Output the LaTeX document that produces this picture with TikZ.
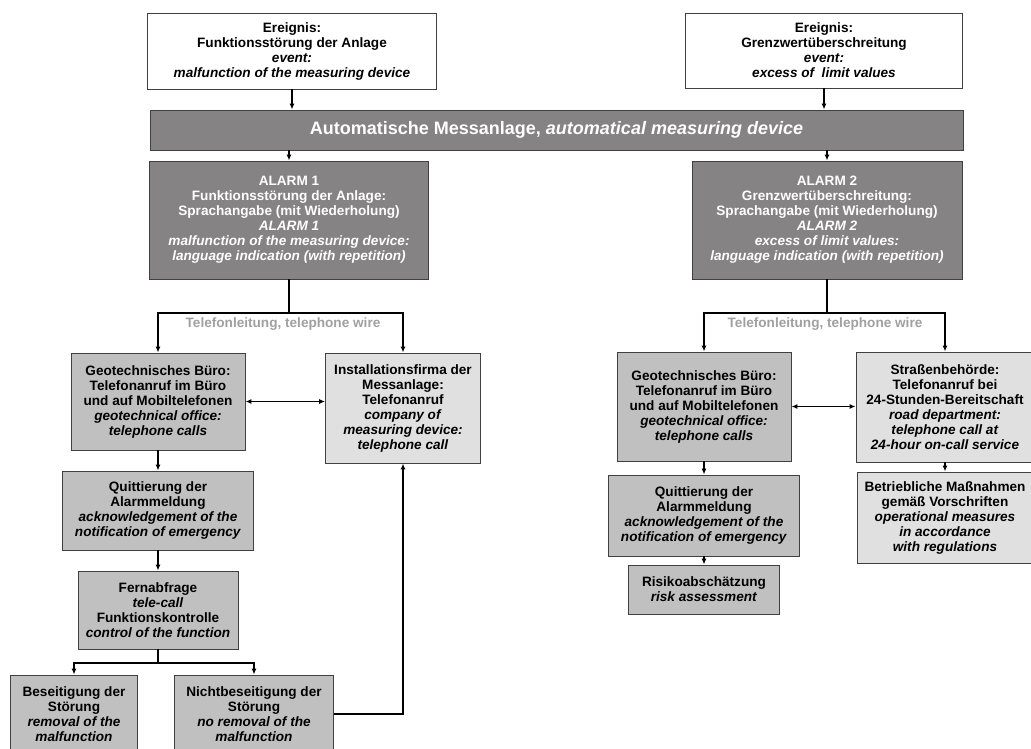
\documentclass[tikz,border=0pt]{standalone}
\usepackage{fontspec}
\setmainfont{Liberation Sans}
\usetikzlibrary{arrows.meta}
\definecolor{alarmgray}{HTML}{858383}
\definecolor{midgray}{HTML}{C0C0C0}
\definecolor{lightgray}{HTML}{E0E0E0}
\definecolor{boxline}{HTML}{404040}
\definecolor{wiregray}{HTML}{A0A0A0}
\begin{document}
\begin{tikzpicture}[x=1pt,y=-1pt,
  box/.style={draw=boxline, line width=0.9pt, align=center, inner sep=0pt,
    font=\fontsize{13.6}{15}\selectfont\bfseries},
  wh/.style 2 args={minimum width=#1, minimum height=#2},
  dark/.style={box, fill=alarmgray, text=white},
  mid/.style={box, fill=midgray},
  light/.style={box, fill=lightgray},
  wirelabel/.style={inner sep=1pt, text=wiregray,
    font=\fontsize{13.6}{15}\selectfont\bfseries},
  wire/.style={line width=1.8pt, -{Latex[length=6pt,width=5pt]}},
  dbl/.style={line width=1.8pt, {Latex[length=6pt,width=5pt]}-{Latex[length=6pt,width=5pt]}},
]
\useasboundingbox (0,0) rectangle (1031,749);

% events and measuring device
\node[box, fill=white, wh={289}{76}] (ev1) at (292,51)
  {Ereignis:\\Funktionsstörung der Anlage\\\textit{event:}\\\textit{malfunction of the measuring device}};
\node[box, fill=white, wh={277}{75}] (ev2) at (824,50.5)
  {Ereignis:\\Grenzwertüberschreitung\\\textit{event:}\\\textit{excess of\ \ limit values}};
\node[dark, wh={813}{40}, font=\fontsize{18}{20}\selectfont\bfseries] (bar) at (556.5,130)
  {Automatische Messanlage, \textit{automatical measuring device}};

% alarms
\node[dark, wh={279}{118}] (al1) at (289,220)
  {ALARM 1\\Funktionsstörung der Anlage:\\Sprachangabe (mit Wiederholung)\\\textit{ALARM 1}\\
   \textit{malfunction of the measuring device:}\\\textit{language indication (with repetition)}};
\node[dark, wh={270}{118}] (al2) at (827,220)
  {ALARM 2\\Grenzwertüberschreitung:\\Sprachangabe (mit Wiederholung)\\\textit{ALARM 2}\\
   \textit{excess of limit values:}\\\textit{language indication (with repetition)}};

% left branch
\node[mid, wh={174}{97}] (geo1) at (158,401.5)
  {Geotechnisches Büro:\\Telefonanruf im Büro\\und auf Mobiltelefonen\\\textit{geotechnical office:}\\\textit{telephone calls}};
\node[light, wh={155}{110}] (inst) at (403,408)
  {Installationsfirma der\\Messanlage:\\Telefonanruf\\\textit{company of}\\\textit{measuring device:}\\\textit{telephone call}};
\node[mid, wh={191}{79}] (quit1) at (158,510.5)
  {Quittierung der\\Alarmmeldung\\\textit{acknowledgement of the}\\\textit{notification of emergency}};
\node[mid, wh={160}{78}] (fern) at (158,610)
  {Fernabfrage\\\textit{tele-call}\\Funktionskontrolle\\\textit{control of the function}};
\node[mid, wh={127}{78}] (bes) at (74,714)
  {Beseitigung der\\Störung\\\textit{removal of the}\\\textit{malfunction}};
\node[mid, wh={159}{78}] (nicht) at (254,714)
  {Nichtbeseitigung der\\Störung\\\textit{no removal of the}\\\textit{malfunction}};

% right branch
\node[mid, wh={174}{109}] (geo2) at (704,406.5)
  {Geotechnisches Büro:\\Telefonanruf im Büro\\und auf Mobiltelefonen\\\textit{geotechnical office:}\\\textit{telephone calls}};
\node[light, wh={178}{110}] (str) at (945,407)
  {Straßenbehörde:\\Telefonanruf bei\\24-Stunden-Bereitschaft\\\textit{road department:}\\\textit{telephone call at}\\\textit{24-hour on-call service}};
\node[mid, wh={191}{81}] (quit2) at (704,515.5)
  {Quittierung der\\Alarmmeldung\\\textit{acknowledgement of the}\\\textit{notification of emergency}};
\node[mid, wh={151}{49}] (risk) at (704,589.5)
  {Risikoabschätzung\\\textit{risk assessment}};
\node[light, wh={176}{91}] (bet) at (945,517.5)
  {Betriebliche Maßnahmen\\gemäß Vorschriften\\\textit{operational measures}\\\textit{in accordance}\\\textit{with regulations}};

% connectors
\coordinate (s1) at (289,313);
\coordinate (s2) at (158,663);
\coordinate (s3) at (827,313);
\draw[wire] (ev1.south) -- (ev1.south |- bar.north);
\draw[wire] (ev2.south) -- (ev2.south |- bar.north);
\draw[wire] (al1.north |- bar.south) -- (al1.north);
\draw[wire] (al2.north |- bar.south) -- (al2.north);

\draw[wire] (al1.south) -- (s1) -| (geo1.north);
\draw[wire] (s1) -| (inst.north);
\node[wirelabel] (tel1) at (283,324) {Telefonleitung, telephone wire};
\draw[dbl] (geo1.east) -- (geo1.east -| inst.west);
\draw[wire] (geo1.south) -- (quit1.north);
\draw[wire] (quit1.south) -- (fern.north);
\draw[wire] (fern.south) -- (s2) -| (bes.north);
\draw[wire] (s2) -| (nicht.north);
\draw[wire] (nicht.east) -| (inst.south);

\draw[wire] (al2.south) -- (s3) -| (geo2.north);
\draw[wire] (s3) -| (str.north);
\node[wirelabel] (tel2) at (825,324) {Telefonleitung, telephone wire};
\draw[dbl] (geo2.east) -- (geo2.east -| str.west);
\draw[wire] (geo2.south) -- (quit2.north);
\draw[wire] (quit2.south) -- (risk.north);
\draw[wire] (str.south) -- (bet.north);
\end{tikzpicture}
\end{document}
